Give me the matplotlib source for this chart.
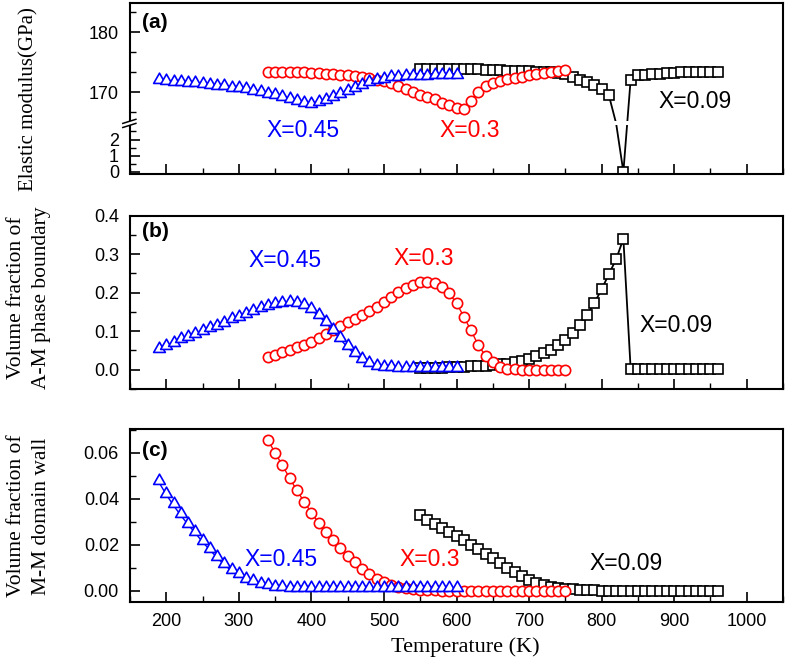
import numpy as np
import matplotlib
matplotlib.use('Agg')
import matplotlib.pyplot as plt
from matplotlib.path import Path
from matplotlib.patches import Rectangle
from matplotlib.lines import Line2D
from matplotlib.ticker import FixedLocator, FormatStrFormatter, MultipleLocator

plt.rcParams['font.family'] = ['Liberation Sans', 'DejaVu Sans']

# ---------------- data ----------------
T_045 = list(range(190, 601, 10))
T_030 = list(range(340, 751, 10))
T_009 = list(range(550, 961, 10))

# (a) elastic modulus (GPa)
E_045 = [171.8, 171.7, 171.6, 171.5, 171.4, 171.3, 171.2, 171.0, 170.9, 170.8, 170.6, 170.5,
         170.3, 170.1, 169.9, 169.6, 169.3, 169.0, 168.7, 168.4, 168.1, 167.9,
         168.2, 168.6, 169.1, 169.6, 170.1, 170.6, 171.1, 171.5, 171.8, 172.1,
         172.3, 172.4, 172.5, 172.6, 172.6, 172.6, 172.7, 172.7, 172.7, 172.7]
E_030 = [173.4, 173.4, 173.4, 173.35, 173.3, 173.3, 173.2, 173.2, 173.1, 173.0,
         172.9, 172.8, 172.7, 172.5, 172.3, 172.0, 171.8, 171.5, 171.1, 170.6,
         170.1, 169.6, 169.2, 168.8, 168.2, 167.8, 167.4, 167.25, 168.6, 170.0,
         171.0, 171.6, 171.9, 172.2, 172.4, 172.6, 172.8, 173.0, 173.2, 173.4,
         173.6, 173.7]
E_009 = [173.9, 173.9, 173.9, 173.9, 173.9, 173.9, 173.85, 173.8, 173.8, 173.75,
         173.7, 173.7, 173.6, 173.6, 173.5, 173.5, 173.45, 173.4, 173.35, 173.15,
         173.0, 172.5, 172.0, 171.7, 171.2, 170.6, 169.5, 60.0, 0.0, 172.1,
         172.8, 172.95, 173.05, 173.1, 173.2, 173.25, 173.3, 173.35, 173.4, 173.4,
         173.45, 173.45]

# (b) volume fraction of A-M phase boundary
B_045 = [0.052, 0.060, 0.068, 0.076, 0.083, 0.091, 0.098, 0.105, 0.112, 0.120,
         0.128, 0.135, 0.142, 0.150, 0.158, 0.164, 0.169, 0.172, 0.173, 0.171,
         0.165, 0.155, 0.140, 0.122, 0.101, 0.079, 0.058, 0.040, 0.025, 0.014,
         0.008, 0.005, 0.004, 0.003, 0.003, 0.003, 0.003, 0.003, 0.003, 0.003,
         0.003, 0.003]
B_030 = [0.033, 0.038, 0.045, 0.052, 0.059, 0.065, 0.072, 0.082, 0.092, 0.103,
         0.114, 0.124, 0.133, 0.142, 0.152, 0.163, 0.176, 0.189, 0.201, 0.212,
         0.221, 0.227, 0.229, 0.226, 0.215, 0.198, 0.173, 0.138, 0.102, 0.064,
         0.036, 0.019, 0.008, 0.003, 0.001, 0.0, 0.0, 0.0, 0.0, 0.0,
         0.0, 0.0]
B_009 = [0.004, 0.004, 0.005, 0.005, 0.006, 0.007, 0.008, 0.009, 0.010, 0.011,
         0.012, 0.014, 0.016, 0.019, 0.023, 0.028, 0.035, 0.043, 0.052, 0.063,
         0.077, 0.095, 0.116, 0.142, 0.173, 0.209, 0.248, 0.287, 0.340, 0.003,
         0.002, 0.002, 0.002, 0.002, 0.002, 0.002, 0.002, 0.002, 0.002, 0.002,
         0.002, 0.002]

# (c) volume fraction of M-M domain wall
C_045 = [0.0471, 0.0418, 0.0371, 0.0328, 0.0288, 0.0251, 0.0212, 0.0178, 0.0144, 0.0113,
         0.0087, 0.0067, 0.0049, 0.0037, 0.0027, 0.0019, 0.0014, 0.0011, 0.0009, 0.0008,
         0.0007, 0.0007, 0.0007, 0.0007, 0.0007, 0.0007, 0.0007, 0.0007, 0.0007, 0.0007,
         0.0007, 0.0007, 0.0007, 0.0007, 0.0007, 0.0007, 0.0007, 0.0007, 0.0007, 0.0007,
         0.0007, 0.0007]
C_030 = [0.0655, 0.0600, 0.0545, 0.0490, 0.0436, 0.0387, 0.0340, 0.0295, 0.0256, 0.0219,
         0.0184, 0.0153, 0.0124, 0.0096, 0.0073, 0.0053, 0.0038, 0.0027, 0.0018, 0.0012,
         0.0008, 0.0005, 0.0003, 0.0002, 0.0001, 0.0, 0.0, 0.0, 0.0, 0.0,
         0.0, 0.0, 0.0, 0.0, 0.0, 0.0, 0.0, 0.0, 0.0, 0.0,
         0.0, 0.0]
C_009 = [0.0329, 0.0308, 0.0289, 0.0272, 0.0257, 0.0239, 0.0220, 0.0200, 0.0181, 0.0162,
         0.0141, 0.0120, 0.0098, 0.0080, 0.0063, 0.0048, 0.0036, 0.0026, 0.0018, 0.0013,
         0.0009, 0.0006, 0.0004, 0.0003, 0.0002, 0.0001, 0.0001, 0.0001, 0.0001, 0.0001,
         0.0001, 0.0001, 0.0001, 0.0001, 0.0001, 0.0001, 0.0001, 0.0001, 0.0001, 0.0001,
         0.0001, 0.0001]

X_TICKS = [200, 300, 400, 500, 600, 700, 800, 900, 1000]
SERIES_LABELS = ['X=0.45', 'X=0.3', 'X=0.09']

# ---------------- styling ----------------
BLUE, RED, BLACK = '#0000FF', '#FF0000', '#000000'
tri = Path([(0, 1.5), (-1.05, -0.35), (1.05, -0.35), (0, 1.5)],
           [Path.MOVETO, Path.LINETO, Path.LINETO, Path.CLOSEPOLY])
SANS = 'Liberation Sans'
SERIF = 'Liberation Serif'

fig = plt.figure(figsize=(7.87, 6.61), dpi=100)
L, W = 130 / 787, 653 / 787
ax_a = fig.add_axes([L, 1 - 173.5 / 661, W, 170.5 / 661])
ax_b = fig.add_axes([L, 1 - 389 / 661, W, 173.3 / 661])
ax_c = fig.add_axes([L, 1 - 602.3 / 661, W, 173.0 / 661])


def draw(ax, ys, mark_a=None):
    y45, y30, y09 = ys
    kw09 = dict(color=BLACK, lw=1.3, marker='s', ms=6.8, mfc='white', mec=BLACK, mew=1.2)
    if mark_a is not None:
        kw09['markevery'] = mark_a
    ax.plot(T_009, y09, **kw09, zorder=2)
    ax.plot(T_030, y30, color=RED, lw=1.0, marker='o', ms=7.4, mfc='white', mec=RED, mew=1.2, zorder=2.1)
    ax.plot(T_045, y45, color=BLUE, lw=1.0, marker=tri, ms=12, mfc='white', mec=BLUE, mew=1.2, zorder=2.2)


def style(ax, labels):
    ax.set_xlim(150, 1050)
    ax.xaxis.set_major_locator(FixedLocator(X_TICKS))
    ax.xaxis.set_minor_locator(MultipleLocator(50))
    for s in ax.spines.values():
        s.set_linewidth(1.5)
    ax.tick_params(which='major', direction='in', length=7, width=1.2, top=False, right=False,
                   labelsize=13, pad=8)
    ax.tick_params(which='minor', direction='in', length=4, width=1.0, top=False, right=False)
    if not labels:
        ax.tick_params(axis='x', labelbottom=False)
    for t in ax.get_xticklabels() + ax.get_yticklabels():
        t.set_fontfamily(SANS)


# ---- panel (a) with broken y axis ----
B1, B2, R, EPS = 3.0, 164.8, 0.3706, 1e-6


def fwd(y):
    y = np.asarray(y, float)
    mid = B1 + (y - B1) * EPS
    top = B1 + (B2 - B1) * EPS + (y - B2) * R
    return np.where(y <= B1, y, np.where(y >= B2, top, mid))


def inv(t):
    t = np.asarray(t, float)
    tB2 = B1 + (B2 - B1) * EPS
    return np.where(t <= B1, t, np.where(t >= tB2, B2 + (t - tB2) / R, B1 + (t - B1) / EPS))


ax_a.set_yscale('function', functions=(fwd, inv))
mask09 = [bool(v <= B1 or v >= B2) for v in E_009]
draw(ax_a, (E_045, E_030, E_009), mark_a=mask09)
ylo, yhi = -0.1, 184.9
ax_a.set_ylim(ylo, yhi)
ax_a.yaxis.set_major_locator(FixedLocator([0, 1, 2, 170, 180]))
ax_a.yaxis.set_major_formatter(FormatStrFormatter('%d'))
ax_a.yaxis.set_minor_locator(FixedLocator([0.5, 1.5, 2.5, 166.667, 173.333, 176.667, 183.333]))
ax_a.yaxis.set_minor_formatter(plt.NullFormatter())
style(ax_a, False)
fr = float((fwd(B1) - fwd(ylo)) / (fwd(yhi) - fwd(ylo)))
ax_a.add_patch(Rectangle((-0.006, fr - 0.012), 1.003, 0.024, transform=ax_a.transAxes,
                         facecolor='white', edgecolor='none', zorder=2.6, clip_on=False))
for dy in (-0.012, 0.012):
    ax_a.add_line(Line2D([-0.011, 0.009], [fr + dy - 0.012, fr + dy + 0.012], transform=ax_a.transAxes,
                         color=BLACK, lw=1.1, zorder=3, clip_on=False))

# ---- panel (b) ----
draw(ax_b, (B_045, B_030, B_009))
ax_b.set_ylim(-0.05, 0.4)
ax_b.yaxis.set_major_locator(MultipleLocator(0.1))
ax_b.yaxis.set_minor_locator(MultipleLocator(0.05))
ax_b.yaxis.set_major_formatter(FormatStrFormatter('%.1f'))
style(ax_b, False)

# ---- panel (c) ----
draw(ax_c, (C_045, C_030, C_009))
ax_c.set_ylim(-0.005, 0.0702)
ax_c.yaxis.set_major_locator(MultipleLocator(0.02))
ax_c.yaxis.set_minor_locator(MultipleLocator(0.01))
ax_c.yaxis.set_major_formatter(FormatStrFormatter('%.2f'))
style(ax_c, True)

# ---- annotations ----
FS = 16.5
cols = [BLUE, RED, BLACK]
pos = {
    ax_a: [(0.265, 0.255), (0.521, 0.255), (0.865, 0.421)],
    ax_b: [(0.237, 0.744), (0.450, 0.754), (0.837, 0.369)],
    ax_c: [(0.232, 0.249), (0.459, 0.249), (0.760, 0.226)],
}
for ax, pl in pos.items():
    for (px, py), lab, c in zip(pl, SERIES_LABELS, cols):
        ax.text(px, py, lab, color=c, fontsize=FS, ha='center', va='center',
                transform=ax.transAxes, family=SANS, zorder=5)

for ax, lab, py in [(ax_a, '(a)', 0.883), (ax_b, '(b)', 0.908), (ax_c, '(c)', 0.88)]:
    ax.text(0.018, py, lab, fontsize=15, fontweight='bold', ha='left', va='center',
            transform=ax.transAxes, family=SANS, zorder=5)

# axis labels
fig.text(29 / 787, 1 - 99 / 661, 'Elastic modulus(GPa)', rotation=90, ha='center', va='center',
         fontsize=15, family=SERIF)
fig.text(29 / 787, 1 - 298 / 661, 'Volume fraction of\nA-M phase boundary', rotation=90,
         ha='center', va='center', fontsize=15.5, family=SERIF, linespacing=1.45, multialignment='center')
fig.text(29 / 787, 1 - 516 / 661, 'Volume fraction of\nM-M domain wall', rotation=90,
         ha='center', va='center', fontsize=15.5, family=SERIF, linespacing=1.45, multialignment='center')
fig.text(465 / 787, 1 - 646.7 / 661, 'Temperature (K)', ha='center', va='center',
         fontsize=16, family=SERIF)

fig.savefig('out.png', dpi=100)
